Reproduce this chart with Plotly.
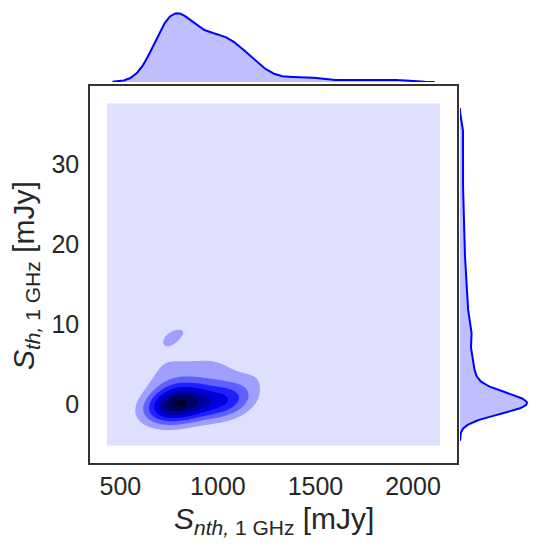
import numpy as np
import plotly.graph_objects as go

# samples of the 1 GHz flux densities [mJy]: bulk near S_th ~ 0 ...
core_nth = [700, 705, 712, 720, 730, 740, 750, 760, 770, 780, 790, 795, 800, 810,
            815, 825, 835, 845, 855, 870, 885, 900, 920, 945, 970, 995, 1015,
            1030, 1045, 1060, 1075, 1095, 1120]
core_th = [0.3, -0.6, -0.45, 0.6, -1.2, 0.3, 1.35, -0.75, 0.15, 1.8, -0.3, 0.75,
           -1.5, 0.45, -0.6, 1.2, 0.0, -0.9, 0.9, 0.3, -0.45, 1.5, 0.15, -0.75,
           1.05, 0.3, -0.45, 0.75, 0.0, 1.65, -0.6, 0.45, 0.9]
# ... and the sparse tail towards large S_th
tail_nth = [1000, 760, 1180, 900, 700, 1040, 820, 1290, 960, 700, 1140, 1420, 752,
            770, 1020, 1200, 880, 1480, 700, 1100, 900, 1180, 760, 1700, 1000, 820,
            1150, 720, 1870, 950, 1100, 780, 1000]
tail_th = [2.2, 2.6, 3.0, 3.4, 3.8, 4.3, 4.8, 5.3, 5.9, 6.0, 7.1, 7.7, 8.3,
           8.6, 9.2, 9.9, 10.6, 11.4, 12.2, 13.1, 14.0, 15.0, 16.1, 17.3, 18.6,
           20.0, 21.6, 23.4, 25.4, 27.6, 30.0, 32.2, 34.0]

x_ticks = [500, 1000, 1500, 2000]
y_ticks = [0, 10, 20, 30]

s_nth = np.array(core_nth + tail_nth, dtype=float)
s_th = np.array(core_th + tail_th, dtype=float)

# kernel widths (joint / marginal) and how far the grids run past the data
BW2_X, BW2_Y, RHO = 90.0, 1.4, 0.3
BW1_X, BW1_Y = 80.0, 1.0
CUT_X2, CUT_Y2 = 3.0, 2.6
CUT = 3
N_BANDS = 8


def kde1d(samples, bw, grid):
    u = (grid[:, None] - samples[None, :]) / bw
    return np.exp(-0.5 * u ** 2).sum(axis=1) / (len(samples) * bw * np.sqrt(2 * np.pi))


def kde2d(xs, ys, bwx, bwy, rho, gx, gy):
    dx = (gx[None, :, None] - xs[None, None, :]) / bwx
    dy = (gy[:, None, None] - ys[None, None, :]) / bwy
    q = (dx ** 2 - 2 * rho * dx * dy + dy ** 2) / (1 - rho ** 2)
    return np.exp(-0.5 * q).sum(axis=2)


def blue_shade(t):
    # white -> blue -> black as t goes 0 -> 1 (HLS lightness 1 - t)
    l = 1.0 - t
    if l >= 0.5:
        v = int(round((2 * l - 1) * 255))
        return "rgb(%d,%d,255)" % (v, v)
    return "rgb(0,0,%d)" % int(round(2 * l * 255))


# joint density
gx = np.linspace(s_nth.min() - CUT_X2 * BW2_X, s_nth.max() + CUT_X2 * BW2_X, 240)
gy = np.linspace(s_th.min() - CUT_Y2 * BW2_Y, s_th.max() + CUT_Y2 * BW2_Y, 320)
z = kde2d(s_nth, s_th, BW2_X, BW2_Y, RHO, gx, gy)
z = z / z.max()
step = 1.0 / 7.2
colorscale = [[i / (N_BANDS - 1), blue_shade((i + 0.5) / N_BANDS)] for i in range(N_BANDS)]

# marginals
mx = np.linspace(s_nth.min() - CUT * BW1_X, s_nth.max() + CUT * BW1_X, 300)
my = np.linspace(s_th.min() - CUT * BW1_Y, s_th.max() + CUT * BW1_Y, 400)
dx_marg = kde1d(s_nth, BW1_X, mx)
dy_marg = kde1d(s_th, BW1_Y, my)

x_range = [gx[0] - 0.05 * (gx[-1] - gx[0]), gx[-1] + 0.05 * (gx[-1] - gx[0])]
y_range = [gy[0] - 0.05 * (gy[-1] - gy[0]), gy[-1] + 0.05 * (gy[-1] - gy[0])]

# the page body has an 8px margin, so figure pixels = window pixels - 8
OFF = 8
W, H = 540 - OFF, 548 - OFF


def px_x(p):
    return min(1.0, max(0.0, (p - OFF) / W))


def px_y(p):
    return min(1.0, max(0.0, 1 - (p - OFF) / H))


fig = go.Figure()
fig.add_trace(go.Contour(
    x=gx, y=gy, z=z, colorscale=colorscale, showscale=False,
    contours=dict(start=step, end=(N_BANDS - 1) * step, size=step,
                  coloring="fill", showlines=False),
    line=dict(width=0), hoverinfo="skip", xaxis="x", yaxis="y"))
fig.add_trace(go.Scatter(
    x=mx, y=dx_marg, mode="lines", fill="tozeroy",
    fillcolor="rgba(0,0,255,0.25)", line=dict(color="#0000ff", width=2),
    xaxis="x2", yaxis="y2", showlegend=False, hoverinfo="skip"))
fig.add_trace(go.Scatter(
    x=dy_marg, y=my, mode="lines", fill="tozerox",
    fillcolor="rgba(0,0,255,0.25)", line=dict(color="#0000ff", width=2),
    xaxis="x3", yaxis="y3", showlegend=False, hoverinfo="skip"))

dom_x = [px_x(90), px_x(457)]
dom_y = [px_y(463), px_y(86)]
FONT = "Liberation Sans, Arial, sans-serif"
tick_font = dict(family=FONT, size=25, color="#262626")
title_font = dict(family=FONT, size=30, color="#262626")
frame = dict(showline=True, linecolor="#333333", linewidth=1.6, mirror=True,
             showgrid=False, zeroline=False, ticks="", automargin=False)
hidden = dict(visible=False, automargin=False)

fig.update_layout(
    width=W, height=H, margin=dict(l=0, r=0, t=0, b=0),
    paper_bgcolor="white", plot_bgcolor="white", showlegend=False,
    xaxis=dict(domain=dom_x, range=x_range, tickvals=x_ticks, tickfont=tick_font,
               ticklabelstandoff=0, anchor="y", **frame),
    yaxis=dict(domain=dom_y, range=y_range, tickvals=y_ticks, tickfont=tick_font,
               ticklabelstandoff=4, anchor="x", **frame),
    xaxis2=dict(domain=dom_x, matches="x", anchor="y2", **hidden),
    yaxis2=dict(domain=[px_y(82), px_y(8)], range=[0, 1.077 * dx_marg.max()],
                anchor="x2", **hidden),
    xaxis3=dict(domain=[px_x(460), px_x(533)], range=[0, 1.09 * dy_marg.max()],
                anchor="y3", **hidden),
    yaxis3=dict(domain=dom_y, matches="y", anchor="x3", **hidden),
    annotations=[
        dict(text="<i>S</i><sub><i>nth,</i> 1 GHz</sub> [mJy]", font=title_font,
             xref="paper", yref="paper", x=px_x(273.5), y=px_y(520),
             xanchor="center", yanchor="middle", showarrow=False),
        dict(text="<i>S</i><sub><i>th,</i> 1 GHz</sub> [mJy]", font=title_font,
             xref="paper", yref="paper", x=px_x(26), y=px_y(276), textangle=-90,
             xanchor="center", yanchor="middle", showarrow=False),
    ],
)

fig.write_html("out.html")
